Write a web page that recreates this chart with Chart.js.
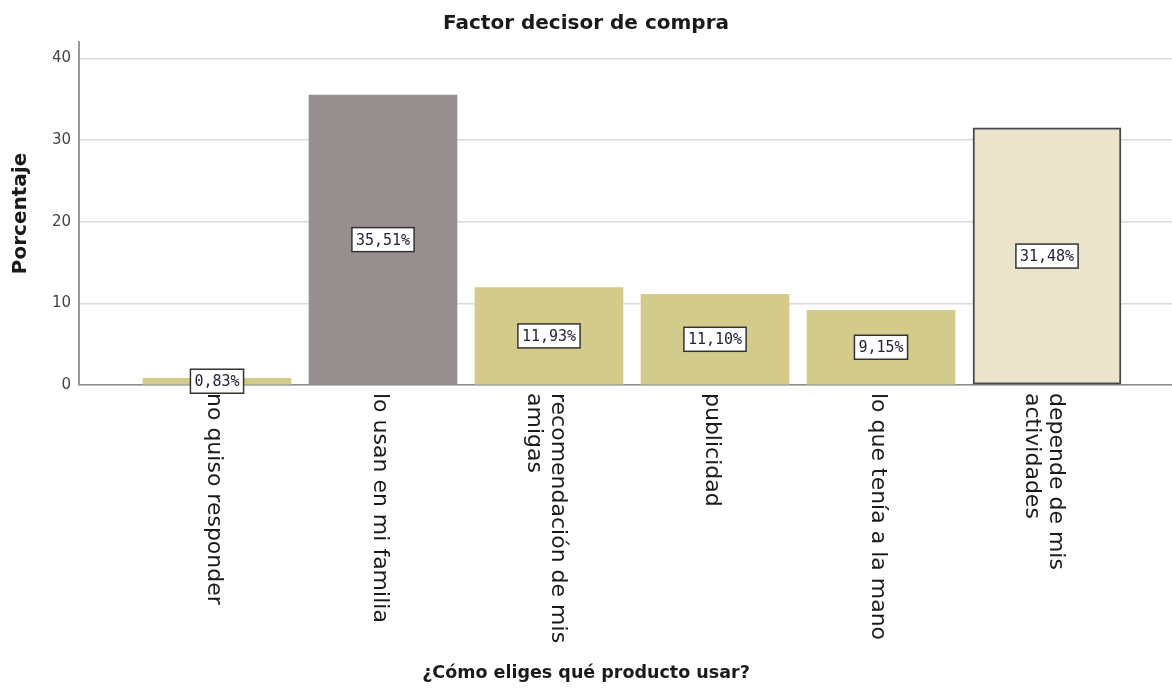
<!DOCTYPE html>
<html>
<head>
<meta charset="utf-8">
<script src="https://cdn.jsdelivr.net/npm/chart.js@4/dist/chart.umd.min.js"></script>
<style>
html,body{margin:0;padding:0;background:#fff;}
canvas{display:block;}
</style>
</head>
<body>
<canvas id="c" width="1172" height="689"></canvas>
<script>
// ---- data ----
const chartTitle = 'Factor decisor de compra';
const xTitle = '¿Cómo eliges qué producto usar?';
const yTitle = 'Porcentaje';
const categories = [
  'no quiso responder',
  'lo usan en mi familia',
  ['recomendación de mis', 'amigas'],
  'publicidad',
  'lo que tenía a la mano',
  ['depende de mis', 'actividades']
];
const values = [0.83, 35.51, 11.93, 11.10, 9.15, 31.48];
const valueLabels = ['0,83%', '35,51%', '11,93%', '11,10%', '9,15%', '31,48%'];
const yTicks = [0, 10, 20, 30, 40];

// ---- styles ----
const OLIVE = '#d2cb8b', GRAY = '#958f8f', CREAM = '#ebe4cd';
const barColors = [OLIVE, GRAY, OLIVE, OLIVE, OLIVE, CREAM];
const barBorderColors = ['rgba(0,0,0,0)','rgba(0,0,0,0)','rgba(0,0,0,0)','rgba(0,0,0,0)','rgba(0,0,0,0)','#4a4a4a'];
const barBorderWidths = [0, 0, 0, 0, 0, 2];

Chart.defaults.font.family = '"DejaVu Sans", sans-serif';

const valueBoxes = {
  id: 'valueBoxes',
  afterDatasetsDraw(chart) {
    const ctx = chart.ctx;
    const meta = chart.getDatasetMeta(0);
    ctx.save();
    ctx.font = '15px "DejaVu Sans Mono", monospace';
    ctx.textAlign = 'center';
    ctx.textBaseline = 'middle';
    meta.data.forEach((el, i) => {
      const txt = valueLabels[i];
      const cx = el.x, cy = (el.y + el.base) / 2;
      const w = ctx.measureText(txt).width + 8, h = 24;
      ctx.fillStyle = '#ffffff';
      ctx.fillRect(cx - w / 2, cy - h / 2, w, h);
      ctx.strokeStyle = '#333333';
      ctx.lineWidth = 1.5;
      ctx.strokeRect(cx - w / 2, cy - h / 2, w, h);
      ctx.fillStyle = '#23233a';
      ctx.fillText(txt, cx, cy + 1);
    });
    ctx.restore();
  }
};

const rotatedXLabels = {
  id: 'rotatedXLabels',
  afterDraw(chart) {
    const ctx = chart.ctx;
    const sx = chart.scales.x;
    ctx.save();
    ctx.font = '22px "DejaVu Sans", sans-serif';
    ctx.fillStyle = '#1a1a1a';
    ctx.textAlign = 'left';
    ctx.textBaseline = 'middle';
    const lh = 24;
    categories.forEach((c, i) => {
      const lines = Array.isArray(c) ? c : [c];
      const x = sx.getPixelForValue(i) - 3;
      const y0 = sx.top + 8;
      ctx.save();
      ctx.translate(x, y0);
      ctx.rotate(Math.PI / 2);
      lines.forEach((ln, j) => {
        ctx.fillText(ln, 0, (j - (lines.length - 1) / 2) * lh);
      });
      ctx.restore();
    });
    ctx.restore();
  }
};

new Chart(document.getElementById('c'), {
  type: 'bar',
  data: {
    datasets: [{
      data: values.map((v, i) => ({ x: i, y: v })),
      backgroundColor: barColors,
      borderColor: barBorderColors,
      borderWidth: barBorderWidths,
      borderSkipped: false,
      barThickness: 148
    }]
  },
  options: {
    responsive: false,
    animation: false,
    devicePixelRatio: 1,
    layout: { padding: 0 },
    plugins: {
      legend: { display: false },
      tooltip: { enabled: false },
      title: {
        display: true,
        text: chartTitle,
        color: '#1a1a1a',
        font: { size: 20, weight: 'bold' },
        padding: { top: 12, bottom: 6 }
      },
      subtitle: {
        display: true,
        position: 'bottom',
        text: xTitle,
        color: '#1a1a1a',
        font: { size: 17.5, weight: 'bold' },
        padding: { top: 4, bottom: 5.5 }
      }
    },
    scales: {
      x: {
        type: 'linear',
        offset: false,
        min: -0.8313,
        max: 5.753,
        grid: { display: true, offset: false, color: 'rgba(0,0,0,0)', drawTicks: false },
        border: { display: true, color: '#8c8c8c', width: 1.5 },
        ticks: { display: false },
        title: { display: false },
        afterFit(s) { s.height = 273.5; }
      },
      y: {
        min: 0,
        max: 42,
        afterBuildTicks(s) { s.ticks = yTicks.map(v => ({ value: v })); },
        grid: { color: '#d9d9d9', lineWidth: 1.5, drawTicks: false },
        border: { display: true, color: '#9a9a9a', width: 2 },
        ticks: { color: '#444', font: { size: 15 }, padding: 8 },
        title: {
          display: true,
          text: yTitle,
          color: '#1a1a1a',
          font: { size: 20, weight: 'bold' },
          padding: { top: 9, bottom: 0 }
        },
        afterFit(s) { s.width = 79; }
      }
    }
  },
  plugins: [valueBoxes, rotatedXLabels]
});
</script>
</body>
</html>
